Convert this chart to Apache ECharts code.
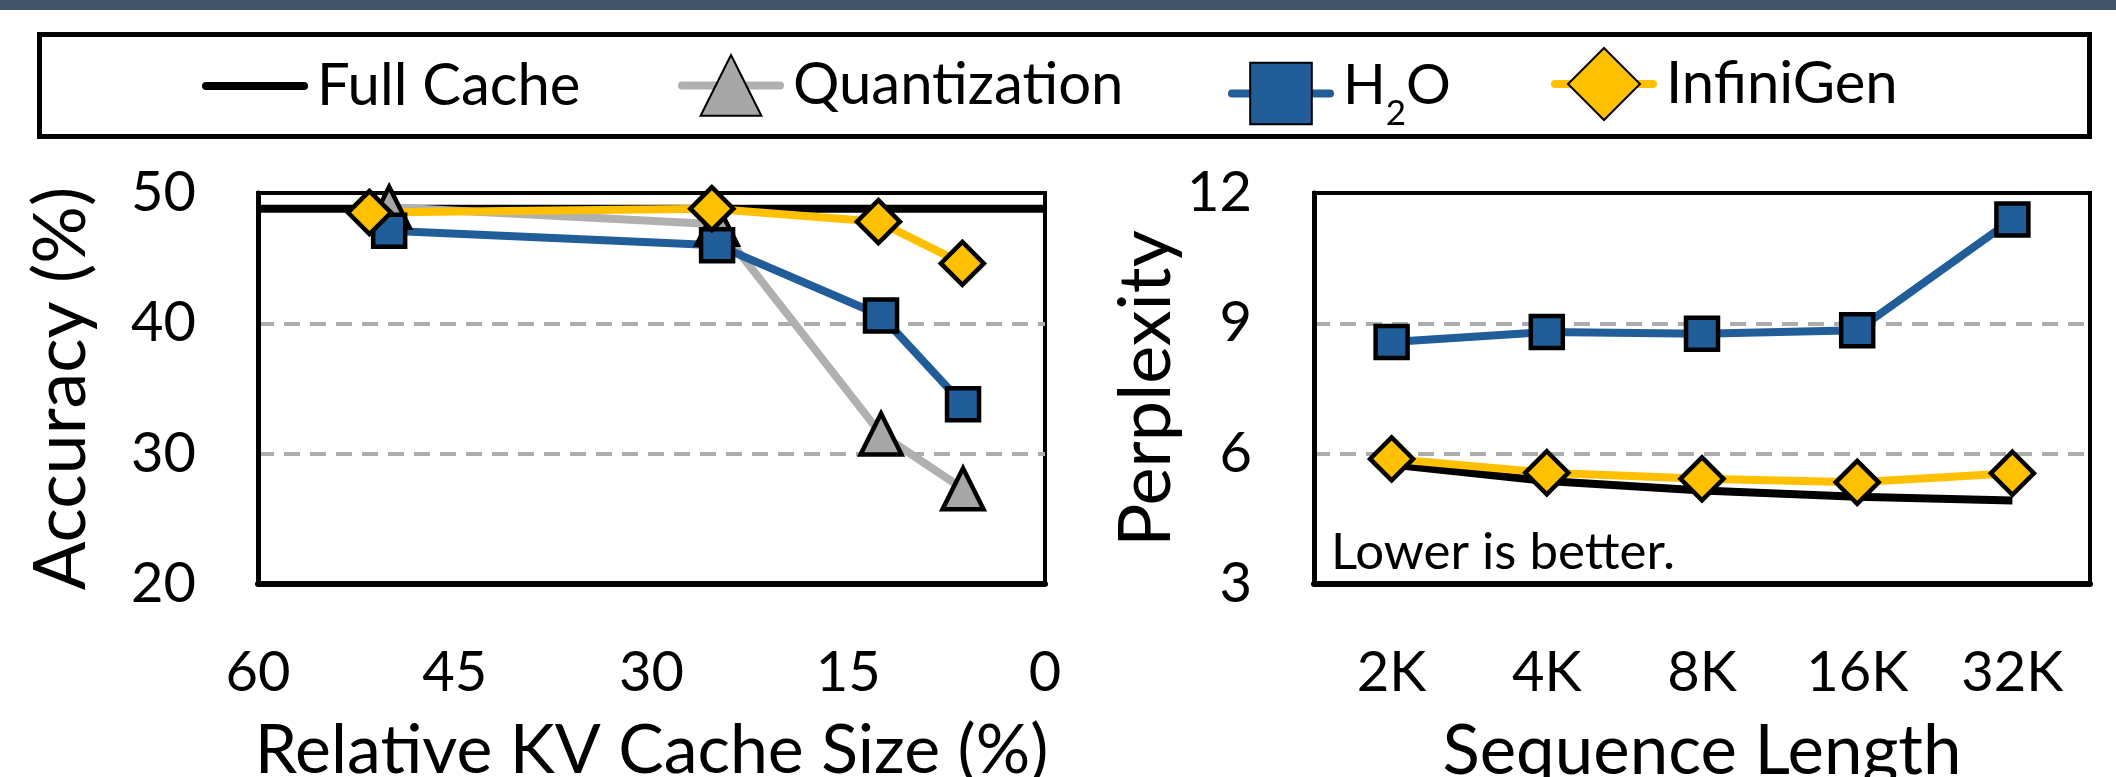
<!DOCTYPE html>
<html><head><meta charset="utf-8">
<script src="https://cdn.jsdelivr.net/npm/echarts@6/dist/echarts.min.js"></script>
<style>html,body{margin:0;padding:0;background:#fff}#c{width:2116px;height:777px}</style>
</head><body><div id="c"></div>
<script>
// ---- data ----
const seriesNames = ['Full Cache', 'Quantization', 'H2O', 'InfiniGen'];
// left panel: accuracy (%) vs relative KV cache size (%)
const kvTicks = [60, 45, 30, 15, 0];
const accTicks = [20, 30, 40, 50];
const kvFullCache = [[60, 48.8], [0, 48.8]];
const kvQuantization = [[50, 48.9], [25, 47.6], [12.5, 31.5], [6.25, 27.3]];
const kvH2O = [[50, 47.1], [25, 46.0], [12.5, 40.6], [6.25, 33.8]];
const kvInfiniGen = [[51.5, 48.5], [25.4, 48.8], [12.7, 47.8], [6.3, 44.6]];
// right panel: perplexity vs sequence length
const seqLengths = ['2K', '4K', '8K', '16K', '32K'];
const pplTicks = [3, 6, 9, 12];
const pplFullCache = [5.75, 5.37, 5.15, 5.01, 4.92];
const pplH2O = [8.57, 8.80, 8.76, 8.84, 11.39];
const pplInfiniGen = [5.88, 5.56, 5.42, 5.34, 5.55];

// ---- styles ----
const FONT = 'Lato';
const COL = { full: '#000000', quantLine: '#B0B0B0', quantFill: '#A6A6A6', h2o: '#215E99', inf: '#FFC000' };
const styles = {
  'Full Cache': { symbol: 'none', line: COL.full },
  'Quantization': { symbol: 'triangle', size: 41, line: COL.quantLine, fill: COL.quantFill },
  'H2O': { symbol: 'rect', size: 32, line: COL.h2o, fill: COL.h2o },
  'InfiniGen': { symbol: 'diamond', size: 43, line: COL.inf, fill: COL.inf }
};
function mk(name, data, idx) {
  const s = styles[name];
  return {
    name: name, type: 'line', data: data, xAxisIndex: idx, yAxisIndex: idx,
    symbol: s.symbol, symbolSize: s.size || 0, showSymbol: s.symbol !== 'none',
    lineStyle: { color: s.line, width: 8 },
    itemStyle: { color: s.fill || s.line, borderColor: '#000', borderWidth: 4.5 },
    emphasis: { disabled: true }, clip: false
  };
}

const tickLabel = { color: '#000', fontFamily: FONT, fontSize: 56 };
const splitDash = { show: true, showMinLine: false, showMaxLine: false,
  lineStyle: { type: [16, 10], color: '#ADADAD', width: 4 } };

const LEG_CY = 92;
function legendItem(name, left, itemHeight, extra) {
  return Object.assign({
    data: [name], left: left, top: LEG_CY - itemHeight / 2, orient: 'horizontal', padding: 0,
    itemWidth: 98, itemHeight: itemHeight, selectedMode: false,
    lineStyle: { width: 8, cap: 'round' },
    textStyle: { color: '#000', fontFamily: FONT, fontSize: 58, padding: [0, 0, 0, 8] }
  }, extra || {});
}

const gridBase = { show: true, borderColor: '#000', borderWidth: 4, backgroundColor: 'transparent',
  containLabel: false, outerBoundsMode: 'none' };

const chart = echarts.init(document.getElementById('c'), null, { renderer: 'canvas' });
chart.setOption({
  animation: false,
  backgroundColor: '#fff',
  graphic: [
    { type: 'rect', shape: { x: 0, y: 0, width: 2116, height: 10 }, style: { fill: '#41546A' } },
    { type: 'rect', shape: { x: 39.5, y: 34.5, width: 2050, height: 102 }, style: { fill: 'none', stroke: '#000', lineWidth: 5 } },
    { type: 'text', left: 1331, top: 527, style: { text: 'Lower is better.', font: '51px Lato', fill: '#000' } }
  ],
  legend: [
    legendItem('Full Cache', 202, 70, { itemStyle: { opacity: 0 } }),
    legendItem('Quantization', 678, 76),
    legendItem('H2O', 1228, 77, {
      formatter: () => '{n|H}{s|2}{n|O}',
      textStyle: { color: '#000', fontFamily: FONT, fontSize: 56, padding: [0, 0, 0, 8],
        rich: { n: { fontFamily: FONT, fontSize: 56, lineHeight: 80, padding: [0, 0, 16, 0], color: '#000' },
                s: { fontFamily: FONT, fontSize: 35, lineHeight: 35, verticalAlign: 'top', padding: [43, 0, 0, 0], color: '#000' } } }
    }),
    legendItem('InfiniGen', 1551, 90)
  ],
  grid: [
    Object.assign({ left: 258, top: 193, width: 787, height: 391 }, gridBase),
    Object.assign({ left: 1314, top: 193, width: 776, height: 391 }, gridBase)
  ],
  xAxis: [
    { type: 'value', gridIndex: 0, inverse: true,
      min: kvTicks[kvTicks.length - 1], max: kvTicks[0], interval: kvTicks[0] - kvTicks[1],
      axisLine: { show: true, onZero: false, lineStyle: { color: '#000', width: 6 } },
      axisTick: { show: false }, splitLine: { show: false },
      axisLabel: Object.assign({ margin: 61 }, tickLabel),
      name: 'Relative KV Cache Size (%)', nameLocation: 'middle', nameGap: 133,
      nameTextStyle: { color: '#000', fontFamily: FONT, fontSize: 68 } },
    { type: 'category', gridIndex: 1, data: seqLengths, boundaryGap: true,
      axisLine: { show: true, onZero: false, lineStyle: { color: '#000', width: 6 } },
      axisTick: { show: false }, splitLine: { show: false },
      axisLabel: Object.assign({ margin: 61, interval: 0 }, tickLabel),
      name: 'Sequence Length', nameLocation: 'middle', nameGap: 133,
      nameTextStyle: { color: '#000', fontFamily: FONT, fontSize: 69 } }
  ],
  yAxis: [
    { type: 'value', gridIndex: 0, min: accTicks[0], max: accTicks[accTicks.length - 1], interval: accTicks[1] - accTicks[0],
      axisLine: { show: true, onZero: false, lineStyle: { color: '#000', width: 5 } },
      axisTick: { show: false }, splitLine: splitDash,
      axisLabel: Object.assign({ margin: 62 }, tickLabel),
      name: 'Accuracy (%)', nameLocation: 'middle', nameGap: 160,
      nameTextStyle: { color: '#000', fontFamily: FONT, fontSize: 72 } },
    { type: 'value', gridIndex: 1, min: pplTicks[0], max: pplTicks[pplTicks.length - 1], interval: pplTicks[1] - pplTicks[0],
      axisLine: { show: true, onZero: false, lineStyle: { color: '#000', width: 5 } },
      axisTick: { show: false }, splitLine: splitDash,
      axisLabel: Object.assign({ margin: 62 }, tickLabel),
      name: 'Perplexity', nameLocation: 'middle', nameGap: 114,
      nameTextStyle: { color: '#000', fontFamily: FONT, fontSize: 72 } }
  ],
  series: [
    mk('Full Cache', kvFullCache, 0),
    mk('Quantization', kvQuantization, 0),
    mk('H2O', kvH2O, 0),
    mk('InfiniGen', kvInfiniGen, 0),
    mk('Full Cache', pplFullCache, 1),
    mk('H2O', pplH2O, 1),
    mk('InfiniGen', pplInfiniGen, 1)
  ]
});
</script></body></html>
